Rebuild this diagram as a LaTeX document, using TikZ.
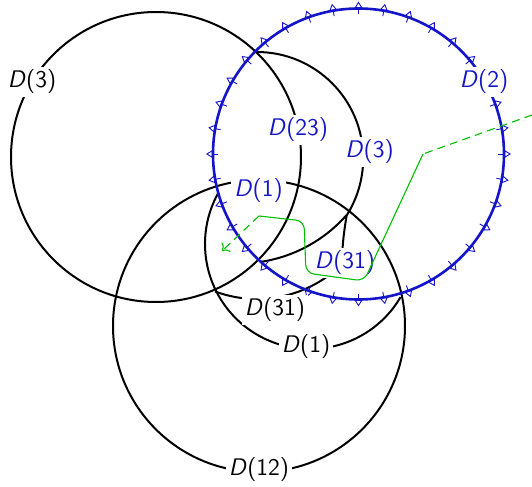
\documentclass[tikz,border=0pt]{standalone}
\usetikzlibrary{arrows.meta}
\definecolor{dblue}{RGB}{20,20,200}
\definecolor{dgreen}{RGB}{0,190,0}
\begin{document}
\begin{tikzpicture}[x=0.5pt,y=-0.5pt,
  arcline/.style={line width=1pt, black},
  bluecirc/.style={line width=1.3pt, dblue},
  tickmark/.style={line width=0.45pt, dblue, -{Triangle[open, length=3.4pt, width=4pt]}},
  greenline/.style={line width=0.55pt, dgreen},
  greendash/.style={greenline, dash pattern=on 4pt off 2.6pt},
  lab/.style={fill=white, inner sep=1.5pt, font=\sffamily\fontsize{12}{14}\selectfont},
  blab/.style={lab, text=dblue}]
\useasboundingbox (0,0) rectangle (532,487);
% centres
\coordinate (cA) at (156,157);
\coordinate (cD) at (259,326);
\coordinate (cBl) at (358.5,154);
% full black circles
\draw[arcline] (cA) circle[radius=145];
\draw[arcline] (cD) circle[radius=146];
% partial arcs
\draw[arcline] ([shift={(-90:106.4)}]256.8,158.4) arc[start angle=-90, end angle=32.2, radius=106.4];
\coordinate (Q) at (346.7,215);
\coordinate (R) at (342.6,263.6);
\draw[arcline] (Q) .. controls (343.8,233) and (341.6,249) .. (R);
\draw[arcline] ([shift={(81.7:143.1)}]239.3,120.4) arc[start angle=81.7, end angle=41.4, radius=143.1];
\draw[arcline] ([shift={(110.3:121)}]257,178) arc[start angle=110.3, end angle=45, radius=121];
\draw[arcline] ([shift={(209.2:105)}]310,244) arc[start angle=209.2, end angle=30.4, radius=105];
% blue circle with outward marks
\draw[bluecirc] (cBl) circle[radius=145.5];
\foreach \a in {0,10,...,350}
  \draw[tickmark] ([shift={(\a:140)}]cBl) -- ([shift={(\a:152.5)}]cBl);
% labels
\node[lab] (l3) at (32,82) {\textit{D}(3)};
\node[lab] (l12) at (259,470) {\textit{D}(12)};
\node[lab] (l31k) at (275,310) {\textit{D}(31)};
\node[lab] (l1k) at (306,347) {\textit{D}(1)};
\node[blab] (l23) at (298,130) {\textit{D}(23)};
\node[blab] (l3b) at (369.5,152) {\textit{D}(3)};
\node[blab] (l2) at (484,82) {\textit{D}(2)};
\node[blab] (l1b) at (258.5,191) {\textit{D}(1)};
\node[blab] (l31b) at (345,263) {\textit{D}(31)};
% green path
\coordinate (g0) at (532,115);
\coordinate (g1) at (423,154);
\coordinate (g2) at (364,281);
\coordinate (g3) at (306,273);
\coordinate (g4) at (304,221);
\coordinate (g5) at (259,216);
\coordinate (g6) at (222,251);
\draw[greendash] (g0) -- (g1);
\draw[greenline, rounded corners=4pt] (g1) -- (g2) -- (g3) -- (g4) -- (g5);
\draw[greendash, -{To[length=3pt]}] (g5) -- (g6);
\end{tikzpicture}
\end{document}
